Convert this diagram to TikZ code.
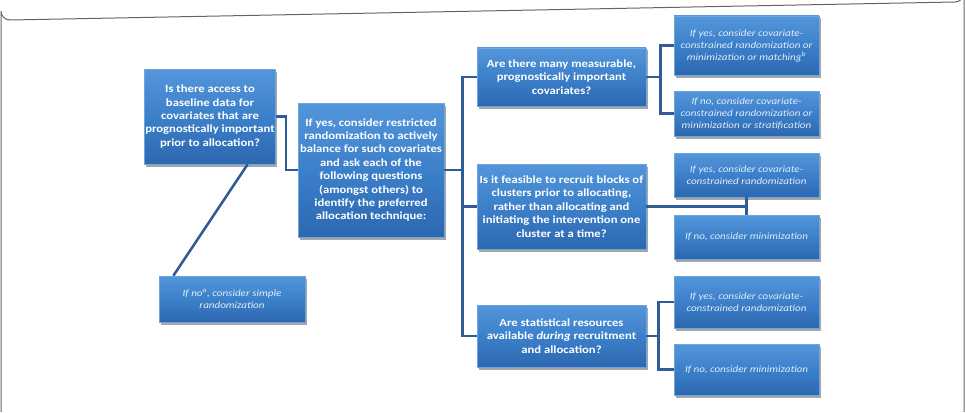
\documentclass[tikz,border=0pt]{standalone}
\usepackage{fontspec}
\setmainfont{Carlito}[FakeStretch=1.15]
\usetikzlibrary{shadows,calc}
\definecolor{boxtop}{RGB}{84,150,218}
\definecolor{boxmid}{RGB}{60,128,202}
\definecolor{boxbot}{RGB}{44,104,176}
\definecolor{boxedge}{RGB}{110,165,222}
\definecolor{linkc}{RGB}{47,92,150}
\definecolor{framec}{RGB}{100,100,100}
\definecolor{atext}{RGB}{225,236,250}
\tikzset{
  qbox/.style={rectangle, draw=boxedge, line width=0.6pt,
    top color=boxtop, bottom color=boxbot, middle color=boxmid,
    text=white, align=center, inner sep=1pt,
    font=\fontsize{11}{13.4}\selectfont\bfseries,
    drop shadow={shadow xshift=1.5pt, shadow yshift=-2.5pt, fill=black, opacity=0.35}},
  abox/.style={qbox, text=atext, font=\fontsize{9.6}{12}\selectfont\itshape},
  link/.style={draw=linkc, line width=2.6pt, line join=miter},
}
\begin{document}
\begin{tikzpicture}[x=1pt,y=-1pt]
\useasboundingbox (0,0) rectangle (965,412);
% frame
\draw[framec, line width=1pt] (1,412) -- (1,11) arc[start angle=180,end angle=90,radius=9] -- (955,2) arc[start angle=90,end angle=0,radius=9] -- (964,412);

% nodes
\node[qbox, minimum width=130, minimum height=95] (A) at (210,116.5)
 {Is there access to\\baseline data for\\covariates that are\\prognostically important\\prior to allocation?};
\node[qbox, minimum width=146, minimum height=134] (B) at (371,170)
 {If yes, consider restricted\\randomization to actively\\balance for such covariates\\and ask each of the\\following questions\\(amongst others) to\\identify the preferred\\allocation technique:};
\node[abox, minimum width=146, minimum height=46] (E) at (232,299)
 {If no\textsuperscript{a}, consider simple\\randomization};

\node[qbox, minimum width=169, minimum height=58] (C1) at (561.5,77)
 {Are there many measurable,\\prognostically important\\covariates?};
\node[qbox, minimum width=169, minimum height=85] (C2) at (561.5,206.5)
 {Is it feasible to recruit blocks of\\clusters prior to allocating,\\rather than allocating and\\initiating the intervention one\\cluster at a time?};
\node[qbox, minimum width=169, minimum height=62] (C3) at (561.5,336)
 {Are statistical resources\\available \textit{during} recruitment\\and allocation?};

\node[abox, minimum width=145, minimum height=59] (D1) at (746.5,45.5)
 {If yes, consider covariate-\\constrained randomization or\\minimization or matching\textsuperscript{b}};
\node[abox, minimum width=145, minimum height=45] (D2) at (746.5,113.5)
 {If no, consider covariate-\\constrained randomization or\\minimization or stratification};
\node[abox, minimum width=145, minimum height=44] (D3) at (746.5,175)
 {If yes, consider covariate-\\constrained randomization};
\node[abox, minimum width=145, minimum height=44] (D4) at (746.5,237)
 {If no, consider minimization};
\node[abox, minimum width=145, minimum height=52] (D5) at (746.5,302)
 {If yes, consider covariate-\\constrained randomization};
\node[abox, minimum width=145, minimum height=51] (D6) at (746.5,369.5)
 {If no, consider minimization};

% junction coordinates
\coordinate (jA) at ($(A.east)+(10,0)$);
\coordinate (jB) at ($(B.east)+(18,0)$);
\coordinate (j1) at ($(C1.east)+(14,0)$);
\coordinate (j3) at ($(C3.east)+(12,0)$);
\coordinate (aS) at ($(A.south west)!0.785!(A.south east)$);
\coordinate (eN) at ($(E.north west)!0.1!(E.north east)$);
\coordinate (d34) at ($(D3.south)!0.5!(D4.north)$);

% connectors
\draw[link] (A.east) -- (jA) |- (B.west);
\draw[link] (aS) -- (eN);
\draw[link] (B.east) -- (jB);
\draw[link] (C1.west) -| (jB) |- (C3.west);
\draw[link] (jB) |- (C2.west);
\draw[link] (C1.east) -- (j1);
\draw[link] (D1.west) -| (j1) |- (D2.west);
\draw[link] (C2.east) -- (C2.east -| d34);
\draw[link] (D3.south) -- (D4.north);
\draw[link] (C3.east) -- (j3);
\draw[link] (D5.west) -| (j3) |- (D6.west);
\end{tikzpicture}
\end{document}
